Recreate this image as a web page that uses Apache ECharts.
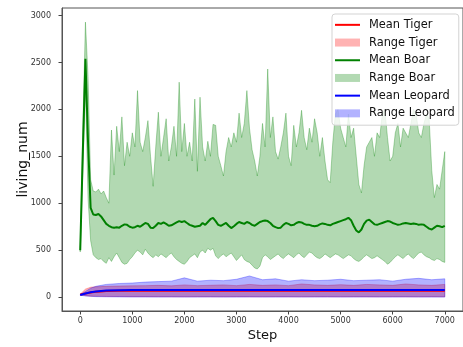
<!DOCTYPE html>
<html>
<head>
<meta charset="utf-8">
<script src="https://cdn.jsdelivr.net/npm/echarts@6/dist/echarts.min.js"></script>
<style>
  html, body { margin: 0; padding: 0; background: #fff; }
  #chart { width: 463px; height: 347px; }
</style>
</head>
<body>
<div id="chart"></div>
<script>
// boar runs are sampled every 50 steps
const boarMean = [
  500, 1550, 2540, 1650, 950, 880, 875, 885, 860, 820, 780, 760, 745, 740, 745, 740, 760, 775, 770, 750,
  740, 745, 760, 750, 770, 790, 780, 740, 735, 760, 790, 780, 795, 780, 760, 765, 780, 795, 810, 800,
  810, 790, 770, 760, 750, 755, 760, 790, 770, 800, 830, 845, 810, 770, 760, 775, 790, 760, 735, 755,
  780, 800, 790, 780, 800, 790, 770, 760, 780, 800, 810, 815, 810, 790, 760, 745, 735, 740, 770, 790,
  780, 765, 770, 790, 800, 795, 780, 770, 770, 760, 755, 760, 775, 785, 780, 770, 765, 780, 790, 800,
  810, 820, 830, 845, 820, 760, 710, 690, 720, 780, 815, 825, 800, 775, 770, 780, 790, 800, 810, 805,
  790, 780, 770, 775, 785, 790, 785, 780, 785, 780, 770, 775, 770, 750, 730, 720, 740, 760, 755, 745,
  760
];
const boarUpper = [
  520, 1800, 2930, 2350, 1250, 1130, 1120, 1150, 1100, 1130, 1060, 1000, 1780, 1300, 1820, 1550, 1920, 1400, 1650, 1500,
  1750, 1600, 2200, 1650, 1550, 1700, 1880, 1500, 1180, 1600, 1970, 1500, 1700, 1900, 1450, 1600, 1820, 1500, 2290, 1550,
  1850, 1500, 1650, 1450, 2110, 1340, 2130, 1600, 1450, 1660, 1500, 1840, 1830, 1500, 1400, 1290, 1550, 1700, 1600, 1750,
  1650, 1960, 1700, 1850, 2200, 1800, 1570, 1450, 1290, 1500, 1850, 1600, 2430, 1700, 1920, 1550, 1470, 1600, 1750, 1960,
  1500, 1400, 1830, 1600, 1750, 1990, 1700, 1570, 1800, 1650, 1900, 1750, 1500, 1700, 1450, 1250, 1220, 1650, 1950, 2000,
  1800, 1700, 1600, 1950, 1700, 1800, 1500, 1200, 1110, 1400, 1600, 1650, 1700, 1500, 1750, 1700, 1950, 2000, 1700, 1450,
  1500, 1750, 1850, 1600, 1800, 1750, 1700, 1850, 2000, 1950, 1750, 1700, 1850, 1950, 1900, 1350, 1060, 1200, 1150, 1350,
  1550
];
const boarLower = [
  480, 1350, 2250, 1050, 600, 450, 420, 400, 410, 380, 360, 420, 380, 430, 470, 420, 370, 350, 360, 400,
  430, 470, 500, 480, 450, 510, 470, 440, 420, 450, 430, 460, 440, 420, 450, 470, 430, 400, 380, 360,
  350, 380, 420, 440, 460, 420, 480, 500, 470, 520, 500, 520, 440, 410, 440, 460, 430, 450, 470, 430,
  390, 420, 450, 400, 380, 370, 340, 310, 300, 330, 420, 450, 430, 400, 420, 440, 460, 430, 410, 440,
  460, 440, 420, 450, 470, 440, 420, 450, 480, 470, 440, 420, 410, 430, 460, 440, 420, 440, 460, 450,
  430, 410, 430, 450, 440, 410, 390, 380, 400, 430, 450, 430, 410, 420, 440, 420, 400, 380, 350, 370,
  400, 430, 450, 430, 410, 440, 460, 430, 410, 440, 470, 480, 450, 430, 420, 400, 390, 410, 400, 380,
  370
];

// tiger and leopard runs are sampled more coarsely
const smallSteps = [0, 100, 200, 300, 400, 500, 750, 1000, 1250, 1500, 1750, 2000, 2250, 2500, 2750, 3000,
  3250, 3500, 3750, 4000, 4250, 4500, 4750, 5000, 5250, 5500, 5750, 6000, 6250, 6500, 6750, 7000];
const tigerMean = [28, 38, 50, 57, 61, 64, 67, 68, 68, 69, 68, 69, 68, 69, 68, 68,
  69, 68, 68, 69, 68, 68, 69, 68, 68, 69, 68, 68, 69, 68, 68, 68];
const tigerUpper = [30, 85, 105, 110, 112, 115, 118, 120, 122, 125, 120, 130, 122, 126, 130, 122,
  135, 125, 130, 122, 140, 130, 125, 132, 125, 135, 130, 125, 140, 130, 125, 135];
const tigerLower = [26, 15, 10, 9, 8, 7, 6, 5, 5, 5, 4, 4, 5, 4, 4, 5,
  4, 4, 5, 4, 4, 5, 4, 4, 5, 4, 4, 5, 4, 4, 5, 4];
const leopardMean = [22, 38, 52, 60, 66, 70, 73, 75, 75, 76, 76, 77, 76, 76, 77, 76,
  76, 77, 76, 76, 77, 76, 76, 77, 76, 76, 77, 76, 76, 77, 76, 76];
const leopardUpper = [25, 60, 95, 115, 125, 135, 145, 150, 160, 165, 170, 205, 170, 180, 175, 190,
  225, 185, 195, 170, 185, 175, 180, 190, 175, 180, 185, 170, 190, 200, 185, 195];
const leopardLower = [20, 12, 8, 5, 4, 3, 2, 1, 1, 0, 1, 0, 0, 1, 0, 0,
  1, 0, 0, 1, 0, 0, 1, 0, 0, 1, 0, 0, 1, 0, 0, 0];

const xTicks = [0, 1000, 2000, 3000, 4000, 5000, 6000, 7000];
const yTicks = [0, 500, 1000, 1500, 2000, 2500, 3000];

const boarSteps = boarMean.map((_, i) => i * 50);
const lineIcon = 'path://M0,0H25V2H0Z';

const pairs = (xs, ys) => xs.map((x, i) => [x, ys[i]]);

// filled range between lower and upper, drawn as one polygon
function band(name, steps, low, high, color) {
  return {
    name: name, type: 'custom', silent: true, z: 1,
    itemStyle: { color: color },
    data: steps.map((x, i) => [x, low[i], high[i]]),
    encode: { x: 0, y: [1, 2] },
    renderItem: (params, api) => {
      if (params.dataIndex !== 0) return null;
      const top = steps.map((x, i) => api.coord([x, high[i]]));
      const bottom = steps.map((x, i) => api.coord([x, low[i]])).reverse();
      return {
        type: 'polygon',
        shape: { points: top.concat(bottom) },
        style: { fill: color, stroke: color, lineWidth: 1 },
      };
    },
  };
}

function mean(name, steps, ys, color) {
  return {
    name: name, type: 'line', data: pairs(steps, ys), symbol: 'none',
    color: color, lineStyle: { color: color, width: 2 }, silent: true, z: 3,
  };
}

const chart = echarts.init(document.getElementById('chart'));
chart.setOption({
  animation: false,
  textStyle: { fontFamily: 'DejaVu Sans' },
  grid: { left: 62, right: -6, top: 8, bottom: 35, show: true, borderColor: '#555', borderWidth: 1 },
  legend: {
    left: 332, top: 14, orient: 'vertical',
    itemWidth: 25, itemHeight: 8, itemGap: 0,
    padding: [2, 4, 3, 3],
    backgroundColor: 'rgba(255,255,255,0.8)', borderColor: '#d3d3d3', borderWidth: 1, borderRadius: 3,
    selectedMode: false, z: 10,
    textStyle: { fontSize: 11.4, color: '#111', lineHeight: 17.7, padding: [0, 0, 0, 4] },
    data: [
      { name: 'Mean Tiger', icon: lineIcon },
      { name: 'Range Tiger', icon: 'rect' },
      { name: 'Mean Boar', icon: lineIcon },
      { name: 'Range Boar', icon: 'rect' },
      { name: 'Mean Leopard', icon: lineIcon },
      { name: 'Range Leopard', icon: 'rect' },
    ],
  },
  xAxis: {
    type: 'value', min: -350, max: 7350,
    name: 'Step', nameLocation: 'middle', nameGap: 18, nameMoveOverlap: false,
    nameTextStyle: { fontSize: 13, color: '#111' },
    axisLine: { show: true, onZero: false, lineStyle: { color: '#555' } },
    axisTick: { show: true, length: 3.5, customValues: xTicks, lineStyle: { color: '#444' } },
    axisLabel: { customValues: xTicks, fontSize: 8, color: '#333', margin: 6, formatter: (v) => String(v) },
    splitLine: { show: false },
  },
  yAxis: {
    type: 'value', min: -148, max: 3080,
    name: 'living_num', nameLocation: 'middle', nameGap: 32, nameMoveOverlap: false,
    nameTextStyle: { fontSize: 14, color: '#111' },
    axisLine: { show: true, onZero: false, lineStyle: { color: '#555' } },
    axisTick: { show: true, length: 3.5, customValues: yTicks, lineStyle: { color: '#444' } },
    axisLabel: { customValues: yTicks, fontSize: 8, color: '#333', margin: 11, formatter: (v) => String(v) },
    splitLine: { show: false },
  },
  series: [
    band('Range Tiger', smallSteps, tigerLower, tigerUpper, 'rgba(255,0,0,0.3)'),
    band('Range Boar', boarSteps, boarLower, boarUpper, 'rgba(0,128,0,0.3)'),
    band('Range Leopard', smallSteps, leopardLower, leopardUpper, 'rgba(0,0,255,0.3)'),
    mean('Mean Tiger', smallSteps, tigerMean, '#ff0000'),
    mean('Mean Boar', boarSteps, boarMean, '#008000'),
    mean('Mean Leopard', smallSteps, leopardMean, '#0000ff'),
  ],
});
</script>
</body>
</html>
